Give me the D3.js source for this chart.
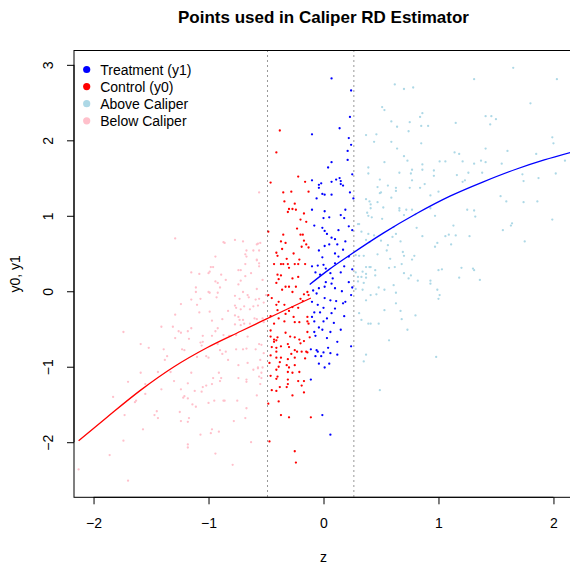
<!DOCTYPE html>
<html>
<head>
<meta charset="utf-8">
<script src="https://cdn.jsdelivr.net/npm/d3@7"></script>
<style>
  body { margin: 0; background: #fff; }
  svg { display: block; font-family: "Liberation Sans", Arial, Helvetica, sans-serif; }
</style>
</head>
<body>
<svg id="chart" width="570" height="564"></svg>
<script>
// Observations inside the caliper, right of the cutoff: [z, y1]
const treatment = [
  [0.07,2.82],[0.24,2.66],[0.23,2.31],[0.14,2.16],[-0.10,2.08],[0.22,2.03],[0.24,1.94],[0.21,1.86],[0.21,1.74],[0.07,1.71],
  [0.04,1.64],[0.25,1.55],[0.14,1.50],[0.11,1.48],[0.15,1.46],[-0.10,1.47],[-0.02,1.43],[-0.04,1.41],[0.07,1.45],[0.17,1.40],
  [-0.04,1.37],[0.15,1.42],[0.23,1.31],[-0.01,1.29],[-0.06,1.23],[0.01,1.28],[0.07,1.28],[0.26,1.23],[-0.10,1.08],[0.01,1.06],
  [0.19,1.08],[0.15,1.01],[0.18,0.97],[0.00,0.97],[0.05,0.98],[-0.08,0.87],[-0.01,0.84],[0.01,0.80],[0.13,0.81],[0.25,0.81],
  [0.22,0.86],[0.07,0.71],[0.10,0.69],[0.03,0.76],[0.19,0.66],[0.05,0.62],[0.01,0.60],[0.12,0.62],[-0.04,0.54],[0.17,0.55],
  [0.10,0.50],[0.13,0.46],[-0.01,0.45],[0.22,0.46],[-0.10,0.33],[-0.05,0.34],[0.00,0.35],[0.02,0.30],[0.10,0.37],[0.18,0.33],
  [0.25,0.29],[-0.07,0.25],[-0.03,0.22],[0.06,0.24],[0.15,0.25],[0.08,0.17],[0.02,0.12],[0.07,0.10],[0.22,0.12],[-0.04,0.04],
  [0.01,0.06],[0.10,0.04],[-0.09,0.01],[-0.06,-0.03],[0.16,0.00],[0.24,-0.05],[0.25,0.05],[0.01,-0.09],[0.06,-0.12],[-0.10,-0.14],
  [0.11,-0.13],[-0.05,-0.18],[0.17,-0.16],[0.19,-0.14],[0.00,-0.22],[0.10,-0.23],[-0.08,-0.28],[-0.03,-0.28],[0.07,-0.29],[-0.10,-0.34],
  [0.03,-0.36],[0.18,-0.33],[-0.08,-0.40],[0.00,-0.40],[0.09,-0.42],[-0.04,-0.48],[-0.01,-0.51],[0.06,-0.54],[0.15,-0.51],[-0.08,-0.54],
  [-0.07,-0.59],[0.03,-0.62],[0.12,-0.67],[-0.11,-0.77],[-0.06,-0.78],[-0.05,-0.80],[0.04,-0.75],[0.00,-0.81],[0.06,-0.82],[0.24,-0.73],
  [0.12,-0.84],[-0.07,-0.86],[-0.02,-0.86],[-0.04,-0.96],[0.05,-0.96],[0.01,-1.01],[-0.11,-1.17],[-0.01,-1.64],[0.06,-1.90]
];

// Observations inside the caliper, left of the cutoff: [z, y0]
const control = [
  [-0.38,2.13],[-0.41,1.84],[-0.22,1.52],[-0.46,1.44],[-0.16,1.45],[-0.35,1.31],[-0.28,1.32],[-0.13,1.32],[-0.34,1.19],[-0.30,1.09],
  [-0.24,1.08],[-0.31,1.05],[-0.20,0.95],[-0.15,0.92],[-0.23,0.83],[-0.20,0.75],[-0.37,0.66],[-0.36,0.56],[-0.41,0.51],[-0.40,0.47],
  [-0.26,0.50],[-0.32,0.43],[-0.21,0.42],[-0.43,0.36],[-0.37,0.36],[-0.35,0.36],[-0.31,0.36],[-0.25,0.36],[-0.22,0.36],[-0.16,0.36],
  [-0.30,0.31],[-0.40,0.22],[-0.37,0.21],[-0.39,0.16],[-0.27,0.17],[-0.22,0.19],[-0.41,0.11],[-0.33,0.06],[-0.30,0.06],[-0.24,0.06],
  [-0.36,0.02],[-0.27,-0.01],[-0.17,-0.04],[-0.14,-0.01],[-0.13,-0.05],[-0.48,-0.05],[-0.45,-0.09],[-0.39,-0.14],[-0.20,-0.10],[-0.18,-0.13],
  [-0.41,-0.18],[-0.34,-0.18],[-0.27,-0.21],[-0.22,-0.22],[-0.40,-0.25],[-0.30,-0.26],[-0.33,-0.30],[-0.46,-0.33],[-0.39,-0.36],[-0.26,-0.34],
  [-0.14,-0.34],[-0.43,-0.43],[-0.34,-0.40],[-0.25,-0.41],[-0.21,-0.41],[-0.14,-0.40],[-0.13,-0.43],[-0.46,-0.52],[-0.33,-0.55],[-0.14,-0.54],
  [-0.46,-0.60],[-0.43,-0.64],[-0.40,-0.61],[-0.41,-0.65],[-0.29,-0.60],[-0.25,-0.61],[-0.21,-0.64],[-0.17,-0.66],[-0.12,-0.61],[-0.31,-0.70],
  [-0.43,-0.67],[-0.45,-0.74],[-0.41,-0.75],[-0.37,-0.73],[-0.30,-0.74],[-0.20,-0.69],[-0.25,-0.78],[-0.23,-0.80],[-0.19,-0.80],[-0.15,-0.80],
  [-0.41,-0.80],[-0.14,-0.81],[-0.28,-0.83],[-0.46,-0.85],[-0.41,-0.88],[-0.37,-0.88],[-0.31,-0.90],[-0.25,-0.88],[-0.16,-0.89],[-0.38,-0.94],
  [-0.47,-0.95],[-0.39,-1.00],[-0.32,-0.98],[-0.30,-1.01],[-0.25,-0.98],[-0.41,-1.04],[-0.31,-1.07],[-0.27,-1.08],[-0.21,-1.07],[-0.46,-1.12],
  [-0.40,-1.13],[-0.41,-1.16],[-0.31,-1.17],[-0.22,-1.19],[-0.17,-1.19],[-0.31,-1.23],[-0.19,-1.25],[-0.38,-1.27],[-0.32,-1.27],[-0.41,-1.32],
  [-0.45,-1.31],[-0.17,-1.34],[-0.27,-1.38],[-0.48,-1.49],[-0.39,-1.46],[-0.37,-1.64],[-0.30,-1.67],[-0.11,-1.67],[-0.47,-1.99],[-0.25,-2.12],
  [-0.24,-2.27],[-0.25,1.16],[-0.27,1.09],[-0.17,1.03],[-0.48,0.79],[-0.35,0.75],[-0.33,0.64],[-0.17,0.67],[-0.15,0.62],[-0.19,0.59],
  [-0.13,0.58],[-0.18,0.75]
];

// Observations beyond the upper caliper bound: [z, y]
const aboveCaliper = [
  [1.65,2.96],[1.31,2.81],[2.03,2.81],[0.62,2.74],[0.70,2.68],[0.78,2.70],[1.80,2.49],[0.51,2.44],[0.53,2.40],[0.86,2.36],
  [0.84,2.31],[1.41,2.32],[1.46,2.32],[1.50,2.28],[1.45,2.21],[1.15,2.23],[0.59,2.25],[0.64,2.18],[0.75,2.24],[0.85,2.19],
  [0.91,2.19],[0.74,2.12],[0.37,2.07],[0.46,2.08],[0.44,1.98],[0.59,1.98],[0.85,1.96],[1.99,2.04],[2.00,1.96],[0.64,1.89],
  [1.41,1.89],[1.14,1.84],[1.18,1.82],[1.60,1.86],[1.85,1.82],[0.70,1.79],[0.53,1.71],[0.73,1.73],[0.86,1.68],[1.01,1.72],
  [1.06,1.72],[1.21,1.72],[1.31,1.69],[1.37,1.73],[1.41,1.71],[1.55,1.69],[2.10,1.73],[0.39,1.64],[0.77,1.61],[0.86,1.61],
  [0.96,1.60],[0.66,1.57],[0.39,1.56],[0.76,1.56],[0.96,1.53],[1.26,1.57],[1.38,1.57],[1.16,1.54],[1.73,1.55],[2.02,1.56],
  [0.49,1.48],[0.77,1.47],[1.23,1.47],[1.21,1.45],[1.74,1.46],[1.87,1.50],[0.88,1.42],[0.47,1.38],[0.56,1.40],[0.63,1.37],
  [0.75,1.37],[0.84,1.37],[0.63,1.33],[0.50,1.31],[1.00,1.32],[0.49,1.30],[0.59,1.24],[0.93,1.27],[1.54,1.26],[1.59,1.19],
  [1.74,1.18],[1.86,1.19],[0.37,1.22],[0.40,1.19],[0.47,1.18],[0.41,1.15],[0.52,1.11],[0.41,1.10],[0.66,1.10],[0.66,1.07],
  [0.72,1.08],[0.77,1.08],[0.93,1.10],[0.38,1.04],[0.70,1.01],[0.80,1.02],[0.97,1.00],[1.25,1.08],[1.31,1.07],[1.32,0.99],
  [0.39,1.00],[0.42,0.98],[0.51,0.96],[1.99,0.95],[0.30,0.89],[0.31,0.89],[1.64,0.90],[1.63,0.87],[1.56,0.81],[0.33,0.79],
  [0.61,0.85],[0.81,0.84],[1.13,0.87],[0.39,0.76],[0.44,0.74],[0.60,0.72],[0.63,0.76],[0.86,0.73],[1.06,0.73],[1.09,0.75],
  [1.15,0.74],[1.27,0.73],[0.37,0.68],[0.40,0.65],[0.50,0.67],[0.67,0.66],[0.56,0.61],[0.99,0.64],[0.97,0.59],[1.11,0.62],
  [1.75,0.66],[0.28,0.48],[0.31,0.47],[0.35,0.47],[0.47,0.49],[0.55,0.54],[0.69,0.52],[0.70,0.47],[0.58,0.43],[0.79,0.47],
  [0.77,0.42],[0.68,0.36],[0.37,0.32],[0.40,0.32],[0.41,0.32],[0.45,0.28],[0.57,0.31],[0.62,0.32],[1.00,0.28],[1.03,0.29],
  [1.20,0.31],[1.30,0.30],[1.31,0.28],[0.28,0.25],[0.34,0.26],[0.37,0.23],[0.45,0.21],[0.70,0.24],[0.76,0.21],[0.30,0.19],
  [0.33,0.19],[0.37,0.18],[0.74,0.17],[1.18,0.18],[1.36,0.15],[0.30,0.13],[0.35,0.11],[0.61,0.08],[0.82,0.14],[0.93,0.10],
  [0.93,0.14],[0.48,0.05],[0.53,0.02],[0.28,0.03],[0.34,0.02],[0.41,-0.05],[0.46,-0.04],[0.63,-0.02],[0.99,0.02],[1.01,-0.05],
  [1.00,-0.10],[0.37,-0.12],[0.63,-0.16],[0.53,-0.25],[0.67,-0.26],[0.31,-0.29],[0.33,-0.38],[0.68,-0.37],[0.80,-0.32],[0.39,-0.43],
  [0.41,-0.43],[0.48,-0.43],[0.73,-0.51],[0.57,-0.65],[0.37,-0.84],[0.35,-0.93],[0.98,-0.87],[0.49,-1.31]
];

// Observations beyond the lower caliper bound: [z, y]
const belowCaliper = [
  [-1.29,0.70],[-0.86,0.64],[-0.77,0.68],[-0.70,0.66],[-0.57,0.63],[-0.55,0.64],[-0.67,0.54],[-0.61,0.54],[-0.56,0.54],[-0.68,0.49],
  [-0.67,0.46],[-0.94,0.46],[-0.58,0.41],[-0.56,0.37],[-0.56,0.33],[-0.68,0.36],[-0.98,0.32],[-0.96,0.32],[-0.74,0.28],[-0.72,0.28],
  [-1.15,0.25],[-1.08,0.23],[-1.00,0.24],[-0.99,0.26],[-0.89,0.22],[-0.63,0.24],[-0.68,0.20],[-0.72,0.14],[-0.85,0.15],[-0.94,0.13],
  [-0.92,0.11],[-0.74,0.09],[-0.53,0.15],[-1.11,0.05],[-0.90,0.05],[-0.58,0.03],[-1.11,-0.01],[-1.00,-0.01],[-0.99,-0.02],[-0.92,-0.02],
  [-0.70,-0.01],[-0.50,-0.05],[-0.77,-0.06],[-0.66,-0.05],[-1.07,-0.10],[-1.15,-0.11],[-0.93,-0.08],[-0.73,-0.10],[-0.65,-0.08],[-0.59,-0.11],
  [-0.56,-0.10],[-0.52,-0.15],[-1.24,-0.17],[-1.10,-0.18],[-0.77,-0.19],[-0.69,-0.20],[-0.61,-0.20],[-0.57,-0.19],[-0.76,-0.22],[-0.72,-0.24],
  [-0.64,-0.24],[-0.99,-0.27],[-1.08,-0.28],[-0.83,-0.26],[-1.29,-0.31],[-0.77,-0.32],[-0.74,-0.34],[-0.60,-0.36],[-0.58,-0.37],[-0.53,-0.36],
  [-0.88,-0.37],[-0.97,-0.39],[-0.73,-0.38],[-0.70,-0.38],[-0.77,-0.44],[-0.72,-0.45],[-0.69,-0.43],[-0.64,-0.43],[-1.41,-0.47],[-1.31,-0.47],
  [-1.15,-0.49],[-0.92,-0.49],[-0.52,-0.41],[-1.74,-0.54],[-1.26,-0.53],[-1.24,-0.55],[-1.18,-0.53],[-1.17,-0.63],[-1.29,-0.62],[-1.05,-0.59],
  [-0.97,-0.59],[-0.94,-0.53],[-0.87,-0.58],[-0.82,-0.59],[-0.76,-0.58],[-0.66,-0.60],[-1.59,-0.70],[-1.52,-0.75],[-1.39,-0.77],[-1.23,-0.77],
  [-1.21,-0.78],[-1.07,-0.68],[-1.05,-0.67],[-1.06,-0.72],[-0.92,-0.70],[-0.90,-0.78],[-0.85,-0.80],[-0.76,-0.77],[-0.70,-0.77],[-0.67,-0.76],
  [-0.56,-0.70],[-0.59,-0.77],[-0.52,-0.82],[-1.36,-0.86],[-1.38,-0.91],[-1.10,-0.87],[-1.02,-0.86],[-1.00,-0.88],[-0.88,-0.83],[-0.83,-0.91],
  [-0.66,-0.95],[-0.74,-0.98],[-0.57,-1.01],[-0.53,-1.01],[-0.61,-1.04],[-1.59,-1.08],[-1.44,-1.07],[-1.33,-1.07],[-1.15,-1.08],[-0.91,-1.08],
  [-0.96,-1.15],[-0.89,-1.15],[-0.74,-1.15],[-0.67,-1.17],[-0.56,-1.13],[-0.54,-1.08],[-1.70,-1.20],[-1.55,-1.23],[-1.30,-1.19],[-1.18,-1.22],
  [-1.02,-1.25],[-1.05,-1.27],[-0.97,-1.23],[-0.90,-1.19],[-0.67,-1.20],[-1.24,-1.30],[-1.12,-1.32],[-1.06,-1.33],[-1.41,-1.30],[-1.55,-1.36],
  [-0.58,-1.38],[-1.21,-1.39],[-1.22,-1.41],[-1.18,-1.42],[-1.64,-1.47],[-1.63,-1.45],[-1.14,-1.50],[-1.11,-1.53],[-1.00,-1.48],[-0.95,-1.45],
  [-0.87,-1.45],[-0.86,-1.45],[-0.75,-1.45],[-0.67,-1.55],[-1.73,-1.64],[-1.45,-1.59],[-1.47,-1.64],[-1.44,-1.68],[-1.25,-1.60],[-1.17,-1.68],
  [-1.18,-1.73],[-1.24,-1.72],[-0.78,-1.72],[-0.68,-1.68],[-1.57,-1.83],[-0.97,-1.83],[-0.98,-1.88],[-0.91,-1.86],[-1.07,-1.90],[-1.74,-1.98],
  [-1.18,-2.03],[-1.18,-2.07],[-0.63,-2.00],[-1.86,-2.17],[-0.94,-2.15],[-2.13,-2.36],[-0.79,-2.30],[-1.70,-2.51],[-1.83,-1.40],[-0.56,1.31],
  [-0.87,0.65],[-0.58,0.62],[-0.58,0.42],[-0.54,-0.71],[-0.55,-0.91],[-0.57,-1.02],[-0.54,-1.15],[-0.55,-1.23]
];

// Fitted regression curves on each side of the cutoff: [z, fitted]
const fitControl = [
  [-2.13,-1.98],[-1.88,-1.665],[-1.59,-1.31],[-1.30,-1.00],[-1.01,-0.745],[-0.72,-0.53],[-0.50,-0.37],[-0.30,-0.225],[-0.11,-0.09]
];
const fitTreatment = [
  [-0.12,0.09],[0.05,0.29],[0.23,0.48],[0.52,0.77],[0.81,1.03],[1.10,1.26],[1.39,1.45],[1.68,1.62],[1.92,1.74],[2.15,1.84]
];

// Caliper bounds (vertical dotted lines)
const caliperBounds = [-0.487, 0.264];

// Axis ticks
const xTicks = [-2, -1, 0, 1, 2];
const yTicks = [-2, -1, 0, 1, 2, 3];

// Legend
const legendLabels = ["Treatment (y1)", "Control (y0)", "Above Caliper", "Below Caliper"];
const legendColors = ["#0000FF", "#FF0000", "#ADD8E6", "#FFC0CB"];

const svg = d3.select("#chart");
const plot = { left: 74, right: 573, top: 50.5, bottom: 497.3 };

const x = d3.scaleLinear().domain([-2.17, 2.17]).range([plot.left, plot.right]);
const y = d3.scaleLinear().domain([-2.73, 3.19]).range([plot.bottom, plot.top]);

const fmt = v => (v < 0 ? "\u2212" + Math.abs(v) : String(v));

// Point layers: faint out-of-caliper points first, then the caliper points on top
const layers = [
  { data: belowCaliper, color: "#FFC0CB" },
  { data: aboveCaliper, color: "#ADD8E6" },
  { data: control, color: "#FF0000" },
  { data: treatment, color: "#0000FF" }
];
const pts = svg.append("g");
layers.forEach(layer => {
  pts.append("g")
    .selectAll("circle")
    .data(layer.data)
    .join("circle")
    .attr("cx", d => x(d[0]))
    .attr("cy", d => y(d[1]))
    .attr("r", 1.15)
    .attr("fill", layer.color);
});

// Fitted curves
const line = d3.line().x(d => x(d[0])).y(d => y(d[1])).curve(d3.curveMonotoneX);
svg.append("path").datum(fitControl).attr("d", line)
  .attr("fill", "none").attr("stroke", "#FF0000").attr("stroke-width", 1.3);
svg.append("path").datum(fitTreatment).attr("d", line)
  .attr("fill", "none").attr("stroke", "#0000FF").attr("stroke-width", 1.3);

// Caliper bounds
svg.append("g").selectAll("line")
  .data(caliperBounds)
  .join("line")
  .attr("x1", d => x(d)).attr("x2", d => x(d))
  .attr("y1", plot.top).attr("y2", plot.bottom)
  .attr("stroke", "#333").attr("stroke-width", 1)
  .attr("stroke-dasharray", "1,4");

// Frame
svg.append("rect")
  .attr("x", plot.left).attr("y", plot.top)
  .attr("width", plot.right - plot.left).attr("height", plot.bottom - plot.top)
  .attr("fill", "none").attr("stroke", "#000").attr("stroke-width", 1);

// X axis
const xAxis = svg.append("g")
  .attr("transform", `translate(0,${plot.bottom})`)
  .call(d3.axisBottom(x).tickValues(xTicks).tickFormat(fmt).tickSize(7).tickPadding(14).tickSizeOuter(0));
xAxis.select(".domain").attr("d", `M${x(xTicks[0])},0H${x(xTicks[xTicks.length - 1])}`);
xAxis.selectAll("text").attr("font-size", 14).attr("font-family", "Liberation Sans, Arial, sans-serif").attr("fill", "#000");

// Y axis with labels parallel to the axis
const yAxis = svg.append("g")
  .attr("transform", `translate(${plot.left},0)`)
  .call(d3.axisLeft(y).tickValues(yTicks).tickFormat(fmt).tickSize(7).tickSizeOuter(0));
yAxis.select(".domain").attr("d", `M0,${y(yTicks[0])}V${y(yTicks[yTicks.length - 1])}`);
yAxis.selectAll(".tick text")
  .attr("x", null).attr("dy", null)
  .attr("transform", "translate(-21,0) rotate(-90)")
  .attr("text-anchor", "middle")
  .attr("font-size", 14).attr("font-family", "Liberation Sans, Arial, sans-serif").attr("fill", "#000");

// Titles
svg.append("text")
  .attr("x", (plot.left + plot.right) / 2).attr("y", 23)
  .attr("text-anchor", "middle").attr("font-weight", "bold").attr("font-size", 17)
  .text("Points used in Caliper RD Estimator");
svg.append("text")
  .attr("x", (plot.left + plot.right) / 2).attr("y", 562)
  .attr("text-anchor", "middle").attr("font-size", 14)
  .text("z");
svg.append("text")
  .attr("transform", `translate(20,${(plot.top + plot.bottom) / 2}) rotate(-90)`)
  .attr("text-anchor", "middle").attr("font-size", 14)
  .text("y0, y1");

// Legend
const legend = svg.append("g").attr("transform", "translate(86.7,69.5)");
const rows = legend.selectAll("g").data(legendLabels).join("g")
  .attr("transform", (d, i) => `translate(0,${i * 17.1})`);
rows.append("circle").attr("r", 3.6).attr("fill", (d, i) => legendColors[i]);
rows.append("text").attr("x", 13.5).attr("y", 5).attr("font-size", 14).text(d => d);
</script>
</body>
</html>
